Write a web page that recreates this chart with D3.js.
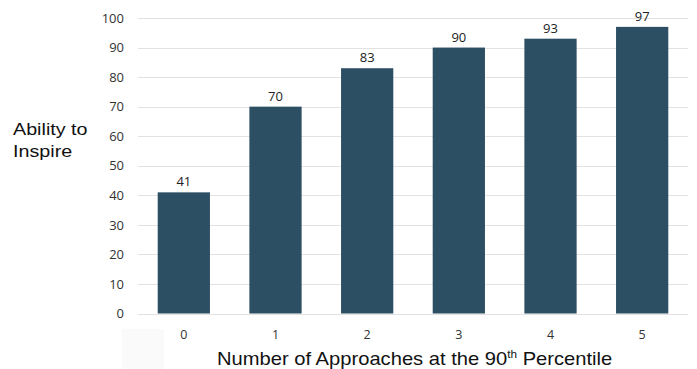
<!DOCTYPE html>
<html>
<head>
<meta charset="utf-8">
<script src="https://cdn.jsdelivr.net/npm/d3@7"></script>
<style>
  html, body { margin: 0; padding: 0; background: #fff; }
  svg { display: block; }
</style>
</head>
<body>
<svg id="chart" width="697" height="369"></svg>
<script>
// Number of approaches at the 90th percentile vs. ability to inspire
const categories = ["0", "1", "2", "3", "4", "5"];
const values = [41, 70, 83, 90, 93, 97];
const yTicks = [0, 10, 20, 30, 40, 50, 60, 70, 80, 90, 100];

const svg = d3.select("#chart");

const x = d3.scaleBand()
  .domain(categories)
  .range([138, 688])
  .paddingInner(0.43)
  .paddingOuter(0.215);

const y = d3.scaleLinear()
  .domain([0, 100])
  .range([313.5, 18]);

// faint backdrop behind the first category label
svg.append("rect")
  .attr("x", 122).attr("y", 329)
  .attr("width", 42).attr("height", 40)
  .attr("fill", "#fafafa");

// gridlines
svg.append("g")
  .selectAll("line")
  .data(yTicks)
  .join("line")
  .attr("x1", 138).attr("x2", 688)
  .attr("y1", d => Math.round(y(d)) + 0.5)
  .attr("y2", d => Math.round(y(d)) + 0.5)
  .attr("stroke", "#e2e2e2")
  .attr("stroke-width", 1.2);

// y axis labels
const yAxis = d3.axisLeft(y).tickValues(yTicks).tickSize(0).tickPadding(0);
const gy = svg.append("g")
  .attr("transform", "translate(124,0)")
  .call(yAxis);
gy.select(".domain").remove();
gy.selectAll("text")
  .attr("font-family", "'Open Sans', sans-serif")
  .attr("font-size", 13)
  .attr("fill", "#333");

// x axis labels
const xAxis = d3.axisBottom(x).tickSize(0).tickPadding(0);
const gx = svg.append("g")
  .attr("transform", "translate(0,330)")
  .call(xAxis);
gx.select(".domain").remove();
gx.selectAll("text")
  .attr("font-family", "'Open Sans', sans-serif")
  .attr("font-size", 12.5)
  .attr("fill", "#333");

// bars
svg.append("g")
  .selectAll("rect")
  .data(values)
  .join("rect")
  .attr("x", (d, i) => x(categories[i]))
  .attr("y", d => y(d))
  .attr("width", x.bandwidth())
  .attr("height", d => y(0) - y(d))
  .attr("fill", "#2d4f64");

// value labels
svg.append("g")
  .selectAll("text")
  .data(values)
  .join("text")
  .attr("x", (d, i) => x(categories[i]) + x.bandwidth() / 2)
  .attr("y", d => y(d) - 6)
  .attr("text-anchor", "middle")
  .attr("font-family", "'Open Sans', sans-serif")
  .attr("font-size", 13)
  .attr("fill", "#222")
  .text(d => d);

// y axis title (set in a slightly widened face)
const yTitle = svg.append("text")
  .attr("transform", "translate(13,0) scale(1.16,1)")
  .attr("font-family", "'Liberation Sans', Arial, sans-serif")
  .attr("font-size", 17)
  .attr("fill", "#111");
yTitle.append("tspan").attr("x", 0).attr("y", 135).text("Ability to");
yTitle.append("tspan").attr("x", 0).attr("y", 157).text("Inspire");

// x axis title
const xTitle = svg.append("text")
  .attr("transform", "translate(217,365) scale(1.12,1)")
  .attr("font-family", "'Liberation Sans', Arial, sans-serif")
  .attr("font-size", 18)
  .attr("fill", "#111");
xTitle.append("tspan").text("Number of Approaches at the 90");
xTitle.append("tspan").attr("font-size", 10.5).attr("dy", -7).text("th");
xTitle.append("tspan").attr("dy", 7).text(" Percentile");
</script>
</body>
</html>
